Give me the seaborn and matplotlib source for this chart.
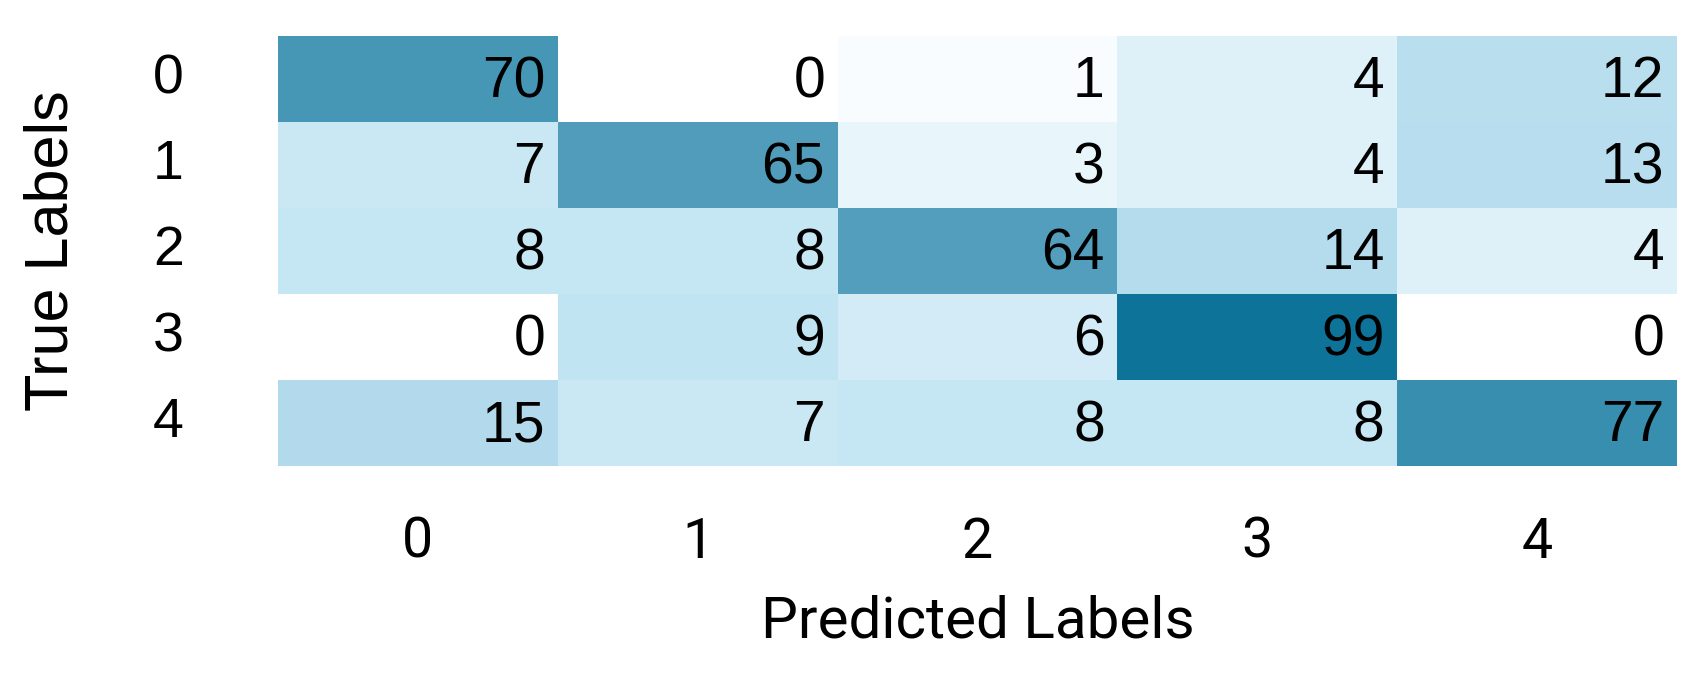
import numpy as np
import pandas as pd
import matplotlib
matplotlib.use("Agg")
import matplotlib.pyplot as plt
import seaborn as sns
from matplotlib.colors import LinearSegmentedColormap

# --------------------------
# data: confusion matrix
# --------------------------
labels = ["0", "1", "2", "3", "4"]
row_0 = [70, 0, 1, 4, 12]
row_1 = [7, 65, 3, 4, 13]
row_2 = [8, 8, 64, 14, 4]
row_3 = [0, 9, 6, 99, 0]
row_4 = [15, 7, 8, 8, 77]

cm = pd.DataFrame([row_0, row_1, row_2, row_3, row_4], index=labels, columns=labels)

# white -> light blue -> dark teal
vmax = 99
stops = [(0, "#ffffff"), (4, "#ddf0f8"), (8, "#c4e5f3"), (15, "#b1daec"), (99, "#0e7399")]
cmap = LinearSegmentedColormap.from_list("cm_blue", [(v / vmax, c) for v, c in stops])

sns.set_style("white")
plt.rcParams["font.family"] = ["Liberation Sans", "DejaVu Sans"]
plt.rcParams["text.color"] = "black"
plt.rcParams["axes.labelcolor"] = "black"
plt.rcParams["xtick.color"] = "black"
plt.rcParams["ytick.color"] = "black"

fig = plt.figure(figsize=(17.07, 6.77), dpi=100)
ax = fig.add_axes([278 / 1707, 1 - 466 / 677, (1677 - 278) / 1707, (466 - 36) / 677])

sns.heatmap(cm, ax=ax, cmap=cmap, vmin=0, vmax=vmax, cbar=False,
            annot=True, fmt="d", annot_kws={"fontsize": 41, "color": "black"})

# right-align the numbers in each cell
for t in ax.texts:
    x, y = t.get_position()
    t.set_position((x + 0.5 - 0.045, y + 0.04))
    t.set_horizontalalignment("right")

ax.tick_params(axis="both", length=0)
ax.set_yticklabels(labels, rotation=0, fontsize=40)
ax.set_xticklabels(labels, rotation=0, fontsize=40, family=["Roboto", "DejaVu Sans"])
ax.tick_params(axis="y", pad=68)
ax.tick_params(axis="x", pad=36)

ax.set_xlabel("Predicted Labels", fontsize=42, family=["Roboto", "DejaVu Sans"], labelpad=18)
ax.set_ylabel("True Labels", fontsize=44, labelpad=52)

fig.savefig("out.png", dpi=100)
plt.close(fig)
